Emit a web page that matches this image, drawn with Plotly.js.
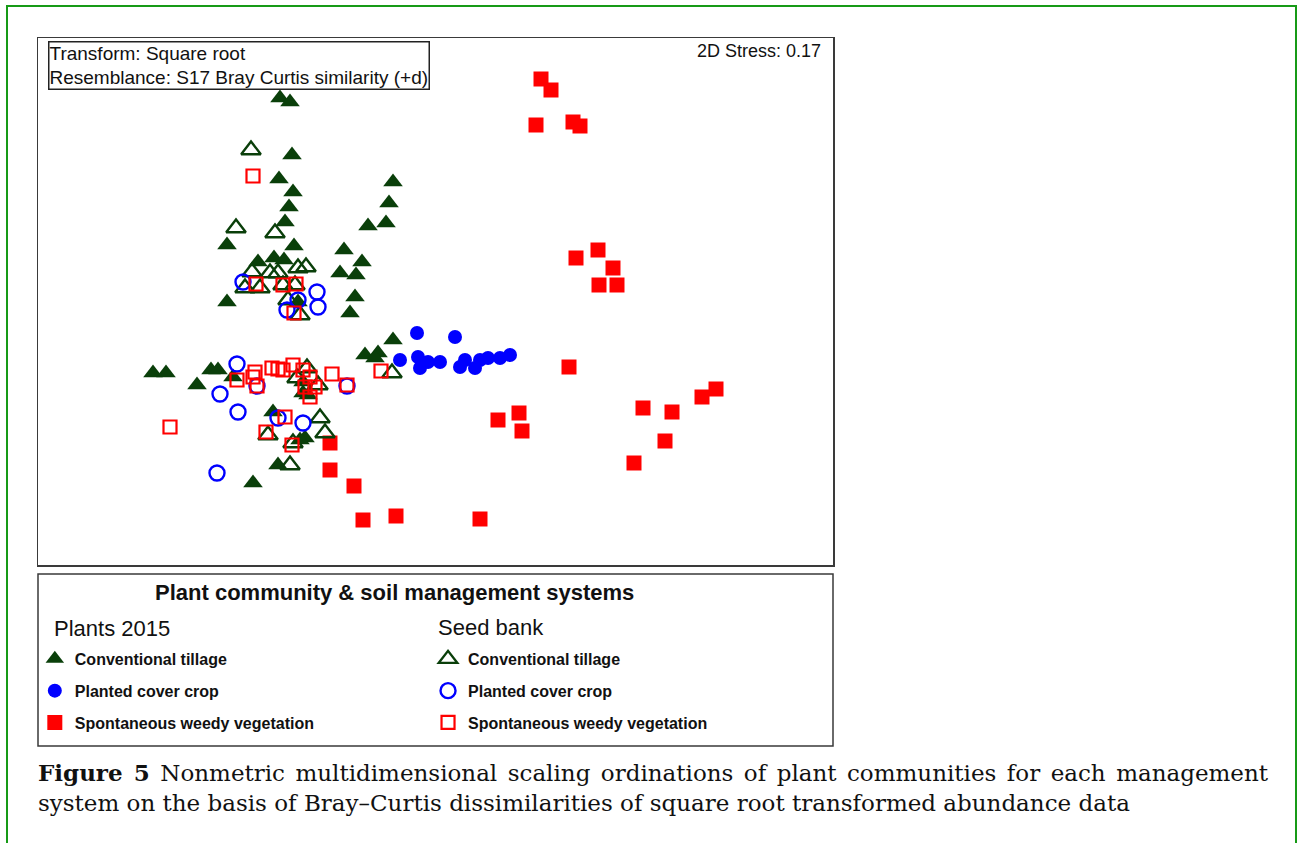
<!DOCTYPE html>
<html>
<head>
<meta charset="utf-8">
<script src="https://cdn.plot.ly/plotly-3.0.1.min.js"></script>
<style>
  html, body { margin: 0; padding: 0; background: #ffffff; }
  body { width: 1297px; height: 843px; position: relative; overflow: hidden; }
  #frame { position: absolute; left: 6px; top: 5px; width: 1291px; height: 900px;
           border: 2px solid #169a16; box-sizing: border-box; }
  #chart { position: absolute; left: 0; top: 0; width: 1297px; height: 843px; }
  .cap { position: absolute; left: 38px; font-family: "DejaVu Serif", "Liberation Serif", serif;
         font-size: 23px; color: #111; line-height: 30px; white-space: nowrap; }
  #cap1 { top: 758px; width: 1230px; text-align: justify; text-align-last: justify; }
  #cap2 { top: 788px; }
</style>
</head>
<body>
<div id="frame"></div>
<div id="chart"></div>
<div class="cap" id="cap1"><b>Figure 5</b> Nonmetric multidimensional scaling ordinations of plant communities for each management</div>
<div class="cap" id="cap2">system on the basis of Bray–Curtis dissimilarities of square root transformed abundance data</div>
<script>
// NMDS ordination scores (axis 1, axis 2)

// Plants 2015 - conventional tillage
const plantsTillX = [-1.55, -1.45, -1.43, -1.56, -1.42, -1.46, -1.50, -0.42, -0.46, -0.49, -0.67,
  -2.08, -1.41, -0.91, -0.73, -0.95, -0.79, -1.77, -1.61, -1.51, -0.80, -2.08, -0.85, -0.42,
  -0.70, -0.57, -0.60, -2.82, -2.69, -2.38, -2.24, -2.17, -2.02, -1.32, -1.32, -1.27, -1.62,
  -1.30, -1.35, -1.57, -1.82, -1.37];
const plantsTillY = [2.02, 1.98, 1.45, 1.21, 1.08, 0.93, 0.78, 1.18, 0.97, 0.77, 0.74,
  0.55, 0.54, 0.50, 0.38, 0.27, 0.25, 0.38, 0.42, 0.40, 0.03, -0.02, -0.13, -0.40,
  -0.55, -0.53, -0.58, -0.73, -0.73, -0.85, -0.70, -0.70, -0.77, -0.82, -0.93, -0.95, -1.12,
  -1.38, -1.40, -1.65, -1.83, -0.02];

// Plants 2015 - planted cover crop
const plantsCoverX = [-0.18, 0.20, -0.35, -0.17, -0.15, -0.07, 0.05, 0.25, 0.30, 0.40, 0.45, 0.53, 0.65, 0.75];
const plantsCoverY = [-0.33, -0.37, -0.60, -0.57, -0.68, -0.62, -0.62, -0.67, -0.60, -0.68, -0.60, -0.58, -0.58, -0.55];

// Plants 2015 - spontaneous weedy vegetation
const plantsWeedyX = [1.06, 1.16, 1.01, 1.38, 1.45, 1.63, 1.41, 1.78, 1.64, 1.82, 1.34, 2.81, 2.67,
  2.08, 2.37, 0.84, 0.63, 0.87, 2.30, 1.99, -1.05, -1.05, -0.81, -0.72, -0.39, 0.45];
const plantsWeedyY = [2.21, 2.10, 1.75, 1.78, 1.74, 0.50, 0.42, 0.32, 0.15, 0.15, -0.67, -0.89, -0.97,
  -1.08, -1.12, -1.13, -1.20, -1.31, -1.41, -1.63, -1.43, -1.70, -1.86, -2.20, -2.16, -2.19];

// Seed bank - conventional tillage
const seedTillX = [-1.84, -1.99, -1.60, -1.83, -1.65, -1.57, -1.37, -1.29, -1.90, -1.75, -1.52, -1.40,
  -1.35, -1.47, -1.28, -1.38, -1.17, -0.43, -1.15, -1.67, -1.10, -1.42, -1.45];
const seedTillY = [1.50, 0.72, 0.67, 0.28, 0.27, 0.27, 0.32, 0.33, 0.12, 0.12, 0.15, 0.15,
  -0.15, 0.00, -0.68, -0.78, -0.85, -0.73, -1.18, -1.35, -1.33, -1.43, -1.65];

// Seed bank - planted cover crop
const seedCoverX = [-1.92, -1.18, -1.17, -1.48, -1.98, -2.15, -1.97, -1.78, -0.88, -1.57, -1.32, -2.18, -1.37];
const seedCoverY = [0.18, 0.08, -0.07, -0.10, -0.64, -0.94, -1.12, -0.86, -0.86, -1.18, -1.23, -1.73, 0.00];

// Seed bank - spontaneous weedy vegetation
const seedWeedyX = [-1.82, -1.79, -1.52, -1.39, -1.41, -1.98, -1.80, -1.82, -1.78, -1.63, -1.57, -1.52,
  -1.42, -1.32, -1.25, -1.30, -1.20, -1.25, -1.03, -0.88, -0.54, -2.65, -1.50, -1.69, -1.43];
const seedWeedyY = [1.24, 0.16, 0.15, 0.16, -0.13, -0.80, -0.72, -0.77, -0.86, -0.68, -0.69, -0.70,
  -0.65, -0.70, -0.77, -0.87, -0.87, -0.97, -0.74, -0.85, -0.71, -1.27, -1.17, -1.32, -1.45];

const systemNames = ['Conventional tillage', 'Planted cover crop', 'Spontaneous weedy vegetation'];
const groupHeaders = ['Plants 2015', 'Seed bank'];

const GREEN = '#0a3f0a', BLUE = '#0000ff', RED = '#ff0000';
const SANS = 'Liberation Sans, Arial, sans-serif';

function pts(x, y, name, legend, group, marker) {
  return { type: 'scatter', mode: 'markers', x: x, y: y, name: name,
           legend: legend, legendgroup: group, marker: marker, hoverinfo: 'skip' };
}

const traces = [
  pts(plantsTillX, plantsTillY, systemNames[0], 'legend', 'p1',
      { symbol: 'triangle-up', size: 17, color: GREEN, line: { width: 0 } }),
  pts(plantsCoverX, plantsCoverY, systemNames[1], 'legend', 'p2',
      { symbol: 'circle', size: 14, color: BLUE, line: { width: 0 } }),
  pts(plantsWeedyX, plantsWeedyY, systemNames[2], 'legend', 'p3',
      { symbol: 'square', size: 15, color: RED, line: { width: 0 } }),
  pts(seedTillX, seedTillY, systemNames[0], 'legend2', 's1',
      { symbol: 'triangle-up-open', size: 17, color: GREEN, line: { width: 2.4, color: GREEN } }),
  pts(seedCoverX, seedCoverY, systemNames[1], 'legend2', 's2',
      { symbol: 'circle-open', size: 15, color: BLUE, line: { width: 2.4, color: BLUE } }),
  pts(seedWeedyX, seedWeedyY, systemNames[2], 'legend2', 's3',
      { symbol: 'square-open', size: 13, color: RED, line: { width: 2.2, color: RED } })
];

const legendFont = { family: SANS, size: 16, color: '#111', weight: 'bold' };
const legendBase = { bgcolor: 'rgba(0,0,0,0)', borderwidth: 0, font: legendFont,
                     tracegroupgap: 8, traceorder: 'grouped', xanchor: 'left', yanchor: 'top',
                     itemclick: false, itemdoubleclick: false };

const layout = {
  width: 1297, height: 843,
  margin: { l: 38, r: 464, t: 38, b: 278, pad: 0 },
  paper_bgcolor: 'rgba(0,0,0,0)',
  plot_bgcolor: '#ffffff',
  showlegend: true,
  xaxis: { range: [-3.97, 3.98], showgrid: false, zeroline: false, showticklabels: false, ticks: '',
           showline: true, mirror: true, linecolor: '#3a3a3a', linewidth: 1.5, fixedrange: true },
  yaxis: { range: [-2.65, 2.62], showgrid: false, zeroline: false, showticklabels: false, ticks: '',
           showline: true, mirror: true, linecolor: '#3a3a3a', linewidth: 1.5, fixedrange: true },
  legend: Object.assign({}, legendBase, { x: -0.004, y: -0.146 }),
  legend2: Object.assign({}, legendBase, { x: 0.4906, y: -0.146 }),
  shapes: [
    { type: 'rect', xref: 'paper', yref: 'paper', x0: 0, x1: 1, y0: -0.3435, y1: -0.0171,
      line: { color: '#3a3a3a', width: 1.5 }, fillcolor: 'rgba(0,0,0,0)' }
  ],
  annotations: [
    { xref: 'paper', yref: 'paper', x: 0.0126, y: 0.9943, xanchor: 'left', yanchor: 'top',
      align: 'left', showarrow: false, bgcolor: '#ffffff', bordercolor: '#222', borderwidth: 1.5, borderpad: 0,
      text: 'Transform: Square root<br>Resemblance: S17 Bray Curtis similarity (+d)',
      font: { family: SANS, size: 19, color: '#111' } },
    { xref: 'paper', yref: 'paper', x: 0.9874, y: 0.9753, xanchor: 'right', yanchor: 'middle',
      showarrow: false, text: '2D Stress: 0.17', font: { family: SANS, size: 18, color: '#111' } },
    { xref: 'paper', yref: 'paper', x: 0.449, y: -0.0531, xanchor: 'center', yanchor: 'middle',
      showarrow: false, text: '<b>Plant community &amp; soil management systems</b>',
      font: { family: SANS, size: 22, color: '#111' } },
    { xref: 'paper', yref: 'paper', x: 0.0176, y: -0.1214, xanchor: 'left', yanchor: 'middle',
      showarrow: false, text: groupHeaders[0], font: { family: SANS, size: 22, color: '#111' } },
    { xref: 'paper', yref: 'paper', x: 0.5006, y: -0.1195, xanchor: 'left', yanchor: 'middle',
      showarrow: false, text: groupHeaders[1], font: { family: SANS, size: 22, color: '#111' } }
  ]
};

Plotly.newPlot('chart', traces, layout, { displayModeBar: false, staticPlot: true });
</script>
</body>
</html>
